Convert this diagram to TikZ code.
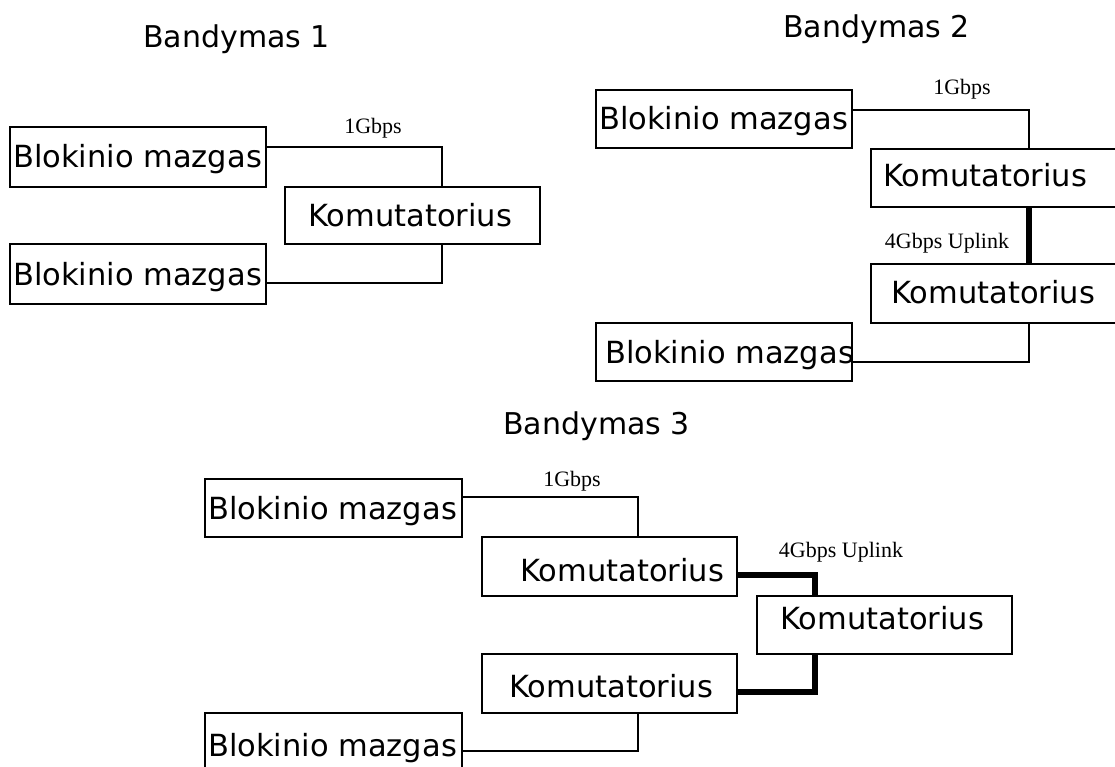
\documentclass[tikz,border=0pt]{standalone}
\usepackage{fontspec}
\newfontfamily\boxfont{DejaVu Sans}
\newfontfamily\lblfont{Liberation Serif}
\begin{document}
\begin{tikzpicture}[x=1pt,y=-1pt,
  box/.style={draw, rectangle, line width=1.4pt, inner sep=0pt, outer sep=0pt},
  boxtext/.style={anchor=base west, inner sep=0pt, font=\boxfont\fontsize{30.5}{36}\selectfont},
  title/.style={anchor=base west, inner sep=0pt, font=\boxfont\fontsize{30}{36}\selectfont},
  speed/.style={anchor=base, inner sep=0pt, font=\lblfont\fontsize{22}{26}\selectfont},
  link/.style={line width=1.4pt},
  uplink/.style={line width=6pt}]
\fill[white] (0,0) rectangle (1115,767);
\useasboundingbox (0,0) rectangle (1115,767);

% ---------- Bandymas 1 ----------
\node[title] (t1) at (143,48) {Bandymas 1};
\node[box, minimum width=256pt, minimum height=60pt] (b1a) at (138,157) {};
\node[boxtext] (b1at) at (13,168) {Blokinio mazgas};
\node[box, minimum width=255pt, minimum height=57pt] (k1) at (412.5,215.5) {};
\node[boxtext] (k1t) at (308,227) {Komutatorius};
\node[box, minimum width=256pt, minimum height=60pt] (b1b) at (138,274) {};
\node[boxtext] (b1bt) at (13,285) {Blokinio mazgas};
\coordinate (c1a) at (442,147);
\coordinate (c1b) at (442,283);
\draw[link] (b1a.east |- c1a) -- (c1a) -- (c1a |- k1.north);
\draw[link] (c1b |- k1.south) -- (c1b) -- (b1b.east |- c1b);
\node[speed] (s1) at (373,134) {1Gbps};

% ---------- Bandymas 2 ----------
\node[title] (t2) at (783,38) {Bandymas 2};
\node[box, minimum width=256pt, minimum height=58pt] (b2a) at (724,119) {};
\node[boxtext] (b2at) at (599,130) {Blokinio mazgas};
\node[box, minimum width=247pt, minimum height=58pt] (k2a) at (994.5,178) {};
\node[boxtext] (k2at) at (883,187) {Komutatorius};
\node[box, minimum width=247pt, minimum height=59pt] (k2b) at (994.5,293.5) {};
\node[boxtext] (k2bt) at (891,303) {Komutatorius};
\node[box, minimum width=256pt, minimum height=58pt] (b2b) at (724,352) {};
\node[boxtext] (b2bt) at (605,363) {Blokinio mazgas};
\coordinate (c2a) at (1029,110);
\coordinate (c2b) at (1029,362);
\draw[link] (b2a.east |- c2a) -- (c2a) -- (c2a |- k2a.north);
\draw[uplink] (c2a |- k2a.south) -- (c2a |- k2b.north);
\draw[link] (c2b |- k2b.south) -- (c2b) -- (b2b.east |- c2b);
\node[speed] (s2) at (962,95) {1Gbps};
\node[speed] (u2) at (947,248) {4Gbps Uplink};

% ---------- Bandymas 3 ----------
\node[title] (t3) at (503,434) {Bandymas 3};
\node[box, minimum width=257pt, minimum height=58pt] (b3a) at (333.5,508) {};
\node[boxtext] (b3at) at (208,519) {Blokinio mazgas};
\node[box, minimum width=255pt, minimum height=59pt] (k3a) at (609.5,566.5) {};
\node[boxtext] (k3at) at (520,581) {Komutatorius};
\node[box, minimum width=255pt, minimum height=58pt] (k3c) at (884.5,625) {};
\node[boxtext] (k3ct) at (780,629) {Komutatorius};
\node[box, minimum width=255pt, minimum height=59pt] (k3b) at (609.5,683.5) {};
\node[boxtext] (k3bt) at (509,697) {Komutatorius};
\node[box, minimum width=257pt, minimum height=67pt] (b3b) at (333.5,746.5) {};
\node[boxtext] (b3bt) at (208,756) {Blokinio mazgas};
\coordinate (c3a) at (638,497);
\coordinate (c3b) at (638,751);
\coordinate (c3c) at (815,575);
\coordinate (c3d) at (815,692);
\draw[link] (b3a.east |- c3a) -- (c3a) -- (c3a |- k3a.north);
\draw[link] (c3b |- k3b.south) -- (c3b) -- (b3b.east |- c3b);
\draw[uplink] (k3a.east |- c3c) -- (c3c) -- (c3c |- k3c.north);
\draw[uplink] (c3d |- k3c.south) -- (c3d) -- (k3b.east |- c3d);
\node[speed] (s3) at (572,486) {1Gbps};
\node[speed] (u3) at (841,557) {4Gbps Uplink};
\end{tikzpicture}
\end{document}
